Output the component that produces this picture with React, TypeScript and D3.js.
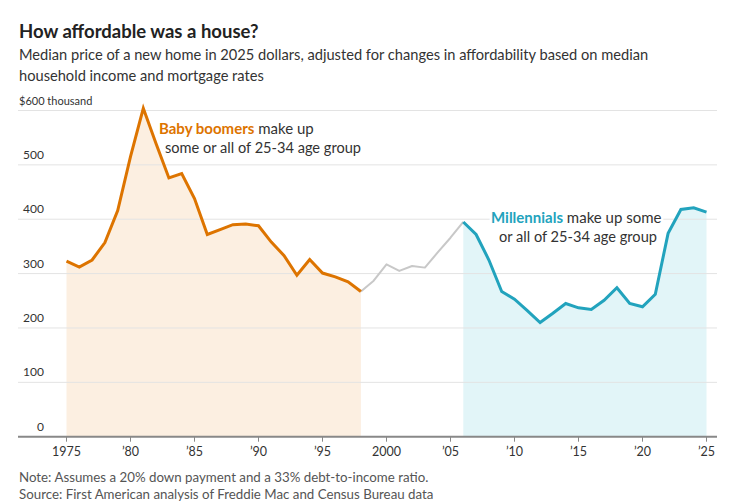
import React from "react";
import * as d3 from "d3";

const boomerYears = [1975,1976,1977,1978,1979,1980,1981,1982,1983,1984,1985,1986,1987,1988,1989,1990,1991,1992,1993,1994,1995,1996,1997,1998];
const boomerValues = [323,312,325,357,416,515,604,539,476,484,438,372,381,390,391,388,358,333,297,326,301,294,285,267];
const genXYears = [1998,1999,2000,2001,2002,2003,2004,2005,2006];
const genXValues = [267,287,317,305,314,311,339,366,395];
const millYears = [2006,2007,2008,2009,2010,2011,2012,2013,2014,2015,2016,2017,2018,2019,2020,2021,2022,2023,2024,2025];
const millValues = [395,372,325,267,253,232,210,227,245,237,234,251,274,245,239,262,374,418,421,413];
const yTicks = [0,100,200,300,400,500,600];
const xTicks = [1975,1980,1985,1990,1995,2000,2005,2010,2015,2020,2025];
const xTickLabels = ["1975","\u201980","\u201985","\u201990","\u201995","2000","\u201905","\u201910","\u201915","\u201920","\u201925"];

const FONT = "Lato, 'Noto Sans', sans-serif";
const ORANGE = "#dd7400";
const TEAL = "#22a3bd";

export default function App() {
  const x = d3.scaleLinear().domain([1975, 2025]).range([66.5, 706.5]);
  const y = d3.scaleLinear().domain([0, 600]).range([436.7, 110.5]);
  const left = 18, right = 717;

  const toPts = (ys: number[], vs: number[]) => ys.map((yr, i) => [yr, vs[i]] as [number, number]);
  const line = d3.line<[number, number]>().x(d => x(d[0])).y(d => y(d[1]));
  const area = d3.area<[number, number]>().x(d => x(d[0])).y0(y(0)).y1(d => y(d[1]));

  const boom = toPts(boomerYears, boomerValues);
  const genx = toPts(genXYears, genXValues);
  const mill = toPts(millYears, millValues);

  return (
    <svg width={754} height={501} style={{ position: "absolute", left: 0, top: 0, background: "#fff" }} fontFamily={FONT}>
      <text x={19} y={38} fontSize={18.5} fontWeight={700} fill="#222">How affordable was a house?</text>
      <text x={19} y={60} fontSize={14.65} fill="#333">Median price of a new home in 2025 dollars, adjusted for changes in affordability based on median</text>
      <text x={19} y={81} fontSize={14.65} fill="#333">household income and mortgage rates</text>

      <path d={area(boom) || ""} fill="#fcefe1" />
      <path d={area(mill) || ""} fill="#e2f5f8" />

      {yTicks.map(t => (
        <g key={t}>
          {t > 0 && <line x1={left} x2={right} y1={y(t)} y2={y(t)} stroke="#e3e3e3" strokeWidth={1} />}
          {t === 600 ? (
            <text x={19} y={y(t) - 6} fontSize={11} fill="#333">$600 thousand</text>
          ) : (
            <text x={44} y={y(t) - 6} fontSize={12} fill="#333" textAnchor="end">{t}</text>
          )}
        </g>
      ))}

      <line x1={left} x2={right} y1={y(0)} y2={y(0)} stroke="#888" strokeWidth={2} />
      {xTicks.map((t, i) => (
        <g key={t}>
          <line x1={x(t)} x2={x(t)} y1={y(0)} y2={y(0) + 5} stroke="#888" strokeWidth={1} />
          <text x={x(t)} y={456} fontSize={12.5} fill="#333" textAnchor="middle">{xTickLabels[i]}</text>
        </g>
      ))}

      <path d={line(genx) || ""} fill="none" stroke="#c8c8c8" strokeWidth={2} strokeLinejoin="round" />
      <path d={line(boom) || ""} fill="none" stroke={ORANGE} strokeWidth={3} strokeLinejoin="miter" />
      <path d={line(mill) || ""} fill="none" stroke={TEAL} strokeWidth={3} strokeLinejoin="miter" />

      <g fontSize={15} fill="#333">
        <text x={159} y={134}><tspan fill={ORANGE} fontWeight={700}>Baby boomers</tspan> make up</text>
        <text x={165} y={153} fontSize={14.6}>some or all of 25-34 age group</text>
      </g>
      <g fontSize={15} fill="#333" stroke="#fff" strokeWidth={5} style={{ paintOrder: "stroke" }} strokeLinejoin="round">
        <text x={491} y={223}><tspan fill={TEAL} fontWeight={700}>Millennials</tspan> make up some</text>
        <text x={499} y={242} fontSize={14.6}>or all of 25-34 age group</text>
      </g>

      <text x={19} y={482} fontSize={13.3} fill="#555">Note: Assumes a 20% down payment and a 33% debt-to-income ratio.</text>
      <text x={19} y={499} fontSize={13.3} fill="#555">Source: First American analysis of Freddie Mac and Census Bureau data</text>
    </svg>
  );
}
